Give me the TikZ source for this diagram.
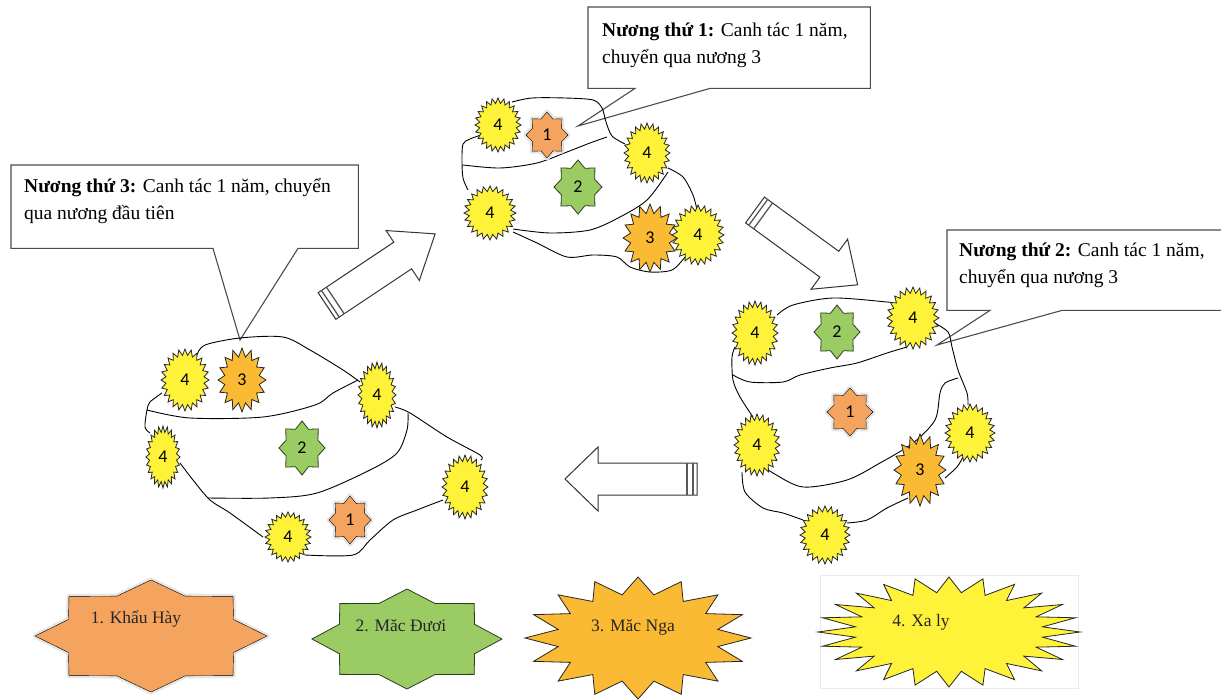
\documentclass[tikz,border=0pt]{standalone}
\usepackage{fontspec}
\setmainfont{Liberation Serif}
\newfontfamily\numfont{Carlito}
\usetikzlibrary{positioning}

\definecolor{xaly}{RGB}{255,243,58}
\definecolor{macnga}{RGB}{250,186,52}
\definecolor{macduoi}{RGB}{155,204,100}
\definecolor{khauhay}{RGB}{245,164,96}

% #1 style, #2 name, #3 x, #4 y, #5 rx, #6 ry, #7 points, #8 inner ratio, #9 text
\newcommand{\burst}[9]{%
  \begin{scope}[shift={(#3,#4)}]
    \pgfmathtruncatemacro{\lastpt}{2*#7-1}
    \draw[#1] plot[samples at={0,...,\lastpt}, variable=\k]
      ({cos(90+\k*180/#7)*(mod(\k,2)==0 ? 1 : #8)*#5},
       {sin(90+\k*180/#7)*(mod(\k,2)==0 ? 1 : #8)*#6}) -- cycle;
  \end{scope}
  \node[num] (#2) at (#3,#4) {#9};
}

\begin{document}
\begin{tikzpicture}[x=1pt, y=-1pt, line join=round,
    field/.style={draw=black, line width=0.9pt},
    cline/.style={draw=black!70, fill=white, line width=1.1pt, line join=miter},
    cbox/.style={rectangle, draw=none, anchor=north west, inner sep=0pt},
    ctext/.style={anchor=north west, align=left, inner sep=0pt,
      font=\fontsize{19.5}{27}\selectfont},
    num/.style={inner sep=0pt, font=\numfont\fontsize{18}{18}\selectfont},
    legtext/.style={inner sep=0pt, text=black!85, font=\fontsize{17.5}{20}\selectfont},
    xa/.style={draw=black!85, fill=xaly, line width=0.8pt, line join=miter},
    nga/.style={draw=black!85, fill=macnga, line width=0.8pt, line join=miter},
    duoi/.style={draw=black!70!macduoi, fill=macduoi, line width=0.8pt, line join=miter},
    hay/.style={fill=khauhay, preaction={draw=black!10, line width=5pt, line join=round}},
    bigarrow/.style={draw=black!80, fill=white, line width=1pt, line join=miter},
    stripe/.style={draw=black!65, line width=1.3pt}]
\useasboundingbox (0,0) rectangle (1221,700);
\fill[white] (0,0) rectangle (1221,700);

% callouts
\node[cbox, minimum width=282pt, minimum height=81pt] (c1) at (588,7) {};
\node[cbox, minimum width=290pt, minimum height=80pt] (c2) at (947,230) {};
\node[cbox, minimum width=347pt, minimum height=83pt] (c3) at (11,165) {};
\coordinate (p1) at (578,126);
\coordinate (p2) at (937,345);
\coordinate (p3) at (240,340);
\draw[cline] (c1.south west) -- ([xshift=47pt]c1.south west) -- (p1)
  -- ([xshift=122pt]c1.south west) -- (c1.south east) -- (c1.north east)
  -- (c1.north west) -- cycle;
\draw[cline] (c2.south west) -- ([xshift=43pt]c2.south west) -- (p2)
  -- ([xshift=115pt]c2.south west) -- (c2.south east) -- (c2.north east)
  -- (c2.north west) -- cycle;
\draw[cline] (c3.south west) -- ([xshift=202pt]c3.south west) -- (p3)
  -- ([xshift=287pt]c3.south west) -- (c3.south east) -- (c3.north east)
  -- (c3.north west) -- cycle;
\node[ctext] (c1 text) at ([xshift=14pt, yshift=-16pt]c1.north west)
  {\textbf{Nương thứ 1:} Canh tác 1 năm,\\chuyển qua nương 3};
\node[ctext] (c2 text) at ([xshift=12pt, yshift=-13pt]c2.north west)
  {\textbf{Nương thứ 2:} Canh tác 1 năm,\\chuyển qua nương 3};
\node[ctext] (c3 text) at ([xshift=13pt, yshift=-13pt]c3.north west)
  {\textbf{Nương thứ 3:} Canh tác 1 năm, chuyển\\qua nương đầu tiên};

% arrows
\begin{scope}[shift={(327,306)}, rotate=33.7]
  \draw[bigarrow] (0,-16) -- (91,-16) -- (91,-30) -- (130,0) -- (91,30) -- (91,16) -- (0,16) -- cycle;
  \draw[stripe] (4,-16) -- (4,16) (10,-16) -- (10,16);
\end{scope}
\begin{scope}[shift={(755,210)}, rotate=-36.1]
  \draw[bigarrow] (0,-16) -- (92,-16) -- (92,-31) -- (127,0) -- (92,31) -- (92,16) -- (0,16) -- cycle;
  \draw[stripe] (4,-16) -- (4,16) (10,-16) -- (10,16);
\end{scope}
\begin{scope}[shift={(697,479)}, rotate=180]
  \draw[bigarrow] (0,-16) -- (99,-16) -- (99,-32) -- (132,0) -- (99,32) -- (99,16) -- (0,16) -- cycle;
  \draw[stripe] (4,-16) -- (4,16) (10,-16) -- (10,16);
\end{scope}

% field 1 (top)
\draw[field] plot[smooth] coordinates {(512,102) (532,98) (565,98) (593,100) (602,108) (606,122) (612,136) (625,144)};
\draw[field] plot[smooth] coordinates {(468,190) (463,178) (462,160) (463,144) (470,139) (484,134)};
\draw[field] plot[smooth] coordinates {(463,165) (500,168) (537,163) (567,152) (590,143) (607,137)};
\draw[field] plot[smooth] coordinates {(513,229) (550,233) (590,230) (620,217) (647,200) (668,172)};
\draw[field] plot[smooth] coordinates {(668,168) (683,177) (693,195) (697,210)};
\draw[field] plot[smooth] coordinates {(513,232) (537,243) (567,257) (593,255) (617,257) (630,267) (650,272) (672,270) (685,257)};

% field 2 (right)
\draw[field] plot[smooth] coordinates {(777,315) (793,305) (833,298) (887,302) (893,303)};
\draw[field] plot[smooth] coordinates {(933,322) (948,332) (952,347) (958,370) (967,393) (968,405)};
\draw[field] plot[smooth] coordinates {(963,457) (957,467) (945,478)};
\draw[field] plot[smooth] coordinates {(908,498) (887,508) (867,520) (847,523)};
\draw[field] plot[smooth] coordinates {(803,520) (783,513) (763,508) (745,492) (742,472)};
\draw[field] plot[smooth] coordinates {(753,417) (740,397) (733,380) (732,357) (735,347)};
\draw[field] plot[smooth] coordinates {(733,375) (750,382) (783,382) (800,375) (830,368) (857,363) (887,353) (907,347)};
\draw[field] plot[smooth] coordinates {(958,378) (945,383) (940,393) (935,420) (913,443) (880,463) (847,480) (803,487) (773,473) (765,467)};

% field 3 (left)
\draw[field] plot[smooth] coordinates {(197,355) (205,345) (240,338) (283,337) (310,350) (343,370) (360,382)};
\draw[field] plot[smooth] coordinates {(162,393) (150,402) (147,410) (145,427) (150,433)};
\draw[field] plot[smooth] coordinates {(147,410) (190,418) (263,417) (315,405) (333,393) (358,380)};
\draw[field] plot[smooth] coordinates {(395,407) (410,413) (447,437) (480,455) (481,460)};
\draw[field] plot[smooth] coordinates {(408,413) (407,430) (397,453) (370,470) (317,493) (270,498) (208,498)};
\draw[field] plot[smooth] coordinates {(443,500) (417,510) (393,520) (370,540) (353,555) (305,555)};
\draw[field] plot[smooth] coordinates {(180,463) (193,480) (210,500) (230,513) (263,537)};

% plants, field 1
\burst{xa}{T4a}{498}{125}{23}{27}{24}{0.8}{4}
\burst{hay}{T1}{547}{135}{21}{23}{8}{0.75}{1}
\burst{xa}{T4b}{647}{153}{23}{30}{24}{0.8}{4}
\burst{duoi}{T2}{578}{187}{24}{27}{8}{0.75}{2}
\burst{xa}{T4c}{490}{213}{26}{27}{24}{0.8}{4}
\burst{nga}{T3}{650}{238}{27}{34}{16}{0.73}{3}
\burst{xa}{T4d}{698}{235}{26}{30}{24}{0.8}{4}

% plants, field 2
\burst{xa}{R4a}{755}{333}{23}{32}{24}{0.8}{4}
\burst{duoi}{R2}{837}{332}{23}{27}{8}{0.75}{2}
\burst{xa}{R4b}{913}{318}{26}{31}{24}{0.8}{4}
\burst{hay}{R1}{850}{412}{23}{24}{8}{0.75}{1}
\burst{xa}{R4c}{757}{445}{23}{31}{24}{0.8}{4}
\burst{xa}{R4d}{970}{433}{25}{29}{24}{0.8}{4}
\burst{nga}{R3}{920}{470}{26}{36}{16}{0.73}{3}
\burst{xa}{R4e}{825}{535}{25}{29}{24}{0.8}{4}

% plants, field 3
\burst{xa}{L4a}{185}{380}{24}{31}{24}{0.8}{4}
\burst{nga}{L3}{242}{380}{24}{32}{16}{0.73}{3}
\burst{xa}{L4b}{377}{395}{19}{33}{24}{0.8}{4}
\burst{xa}{L4c}{163}{457}{17}{31}{24}{0.8}{4}
\burst{duoi}{L2}{302}{448}{23}{27}{8}{0.75}{2}
\burst{xa}{L4d}{465}{487}{23}{32}{24}{0.8}{4}
\burst{hay}{L1}{350}{520}{21}{24}{8}{0.75}{1}
\burst{xa}{L4e}{288}{537}{23}{25}{24}{0.8}{4}

% legend
\draw[black!8] (820,575) rectangle (1078,688);
\burst{hay}{G1}{151}{636}{116}{56}{8}{0.77}{}
\burst{duoi}{G2}{407}{639}{95}{50}{8}{0.77}{}
\burst{nga}{G3}{638}{638}{113}{61}{16}{0.72}{}
\burst{xa}{G4}{949}{632}{131}{55}{24}{0.72}{}
\node[legtext] (G1 text) at (136,619) {1. Khẩu Hày};
\node[legtext] (G2 text) at (401,626) {2. Măc Đươi};
\node[legtext] (G3 text) at (633,627) {3. Măc Nga};
\node[legtext] (G4 text) at (921,622) {4. Xa ly};
\end{tikzpicture}
\end{document}
